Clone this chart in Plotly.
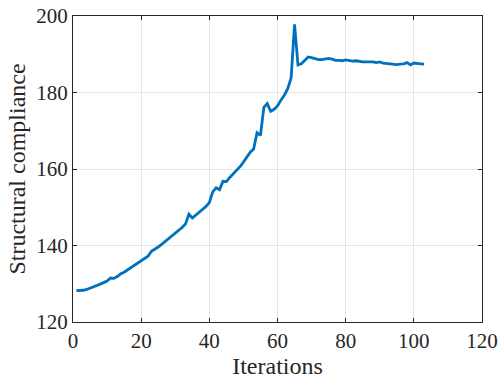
import plotly.graph_objects as go

iterations = list(range(1, 104))
compliance = [
    128.2, 128.2, 128.3, 128.5, 128.8, 129.1, 129.5, 129.9, 130.3, 130.7,
    131.5, 131.4, 131.9, 132.6, 133.0, 133.6, 134.1, 134.8, 135.4, 136.0,
    136.6, 137.2, 138.5, 139.0, 139.6, 140.3, 141.0, 141.7, 142.4, 143.1,
    143.9, 144.7, 145.6, 148.2, 147.2, 147.9, 148.6, 149.4, 150.2, 151.2,
    154.0, 155.1, 154.6, 156.8, 156.7, 157.8, 158.7, 159.6, 160.6, 161.8,
    163.1, 164.4, 165.2, 169.5, 168.8, 176.1, 177.1, 175.1, 175.6, 176.5,
    178.0, 179.3, 181.0, 183.8, 197.8, 187.2, 187.5, 188.3, 189.3, 189.1,
    188.8, 188.6, 188.6, 188.7, 188.9, 188.7, 188.4, 188.4, 188.3, 188.5,
    188.3, 188.2, 188.3, 188.1, 188.0, 188.0, 188.0, 188.0, 187.8, 188.0,
    187.7, 187.6, 187.5, 187.5, 187.3, 187.4, 187.5, 187.8, 187.2, 187.7,
    187.5, 187.5, 187.4,
]
x_ticks = [0, 20, 40, 60, 80, 100, 120]
y_ticks = [120, 140, 160, 180, 200]

fig = go.Figure()
fig.add_trace(go.Scatter(x=iterations, y=compliance, mode="lines",
                         line=dict(color="#0072BD", width=2.8), showlegend=False))

font = "Liberation Serif, Times New Roman, serif"
axis_common = dict(
    showline=True, linecolor="#262626", linewidth=1, mirror="ticks",
    ticks="inside", ticklen=4, tickcolor="#262626",
    showgrid=True, gridcolor="#e6e6e6", gridwidth=1, zeroline=False,
    automargin=False,
    tickfont=dict(family=font, size=21, color="#262626"),
)
fig.update_xaxes(range=[0, 120], tickvals=x_ticks,
                 title=dict(text="Iterations", font=dict(family=font, size=24, color="#262626"), standoff=2),
                 **axis_common)
fig.update_yaxes(range=[120, 200], tickvals=y_ticks,
                 title=dict(text="Structural compliance", font=dict(family=font, size=24, color="#262626"), standoff=3),
                 **axis_common)
fig.update_layout(width=499, height=383, margin=dict(l=73, r=17, t=16, b=61),
                  paper_bgcolor="white", plot_bgcolor="white")
fig.write_html("out.html", config={"displayModeBar": False},
               post_script="document.body.style.margin='0';")
